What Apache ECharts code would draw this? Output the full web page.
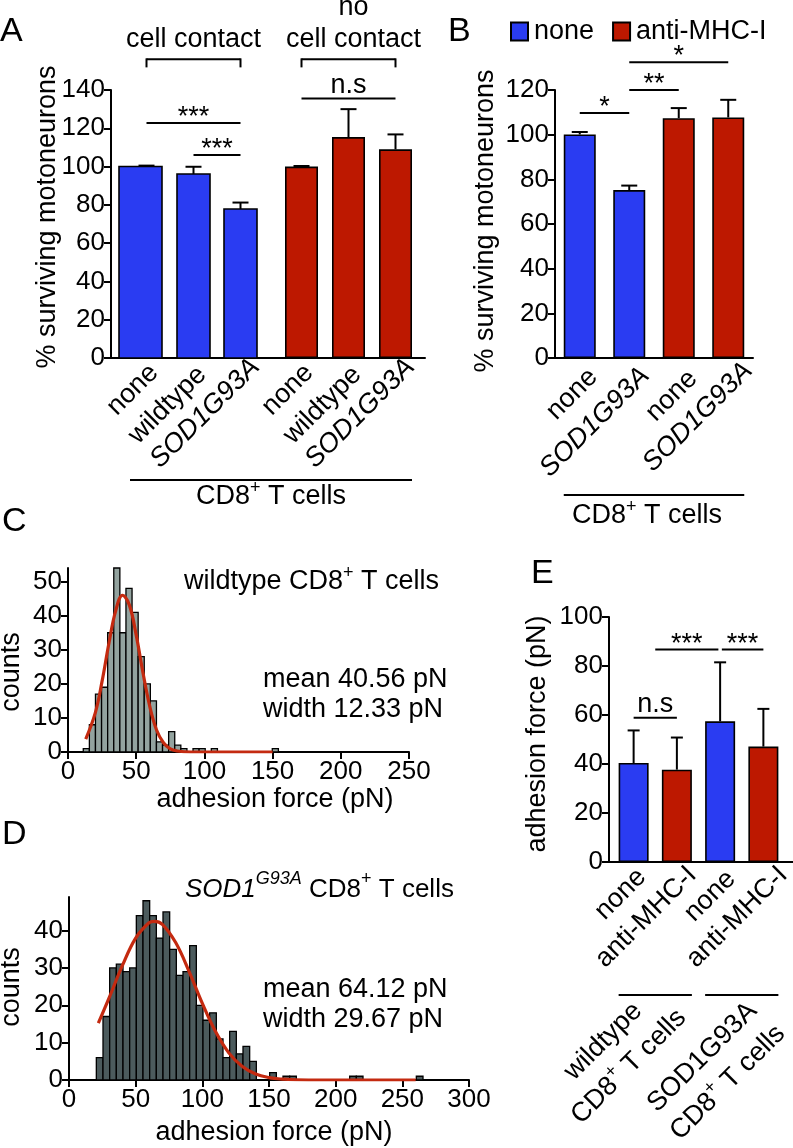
<!DOCTYPE html>
<html><head><meta charset="utf-8">
<script src="https://cdn.jsdelivr.net/npm/echarts@6/dist/echarts.min.js"></script>
<style>html,body{margin:0;padding:0;background:#fff}#c{width:793px;height:1148px}</style>
</head><body><div id="c"></div>
<script>
// ---------------- data ----------------
const aCategories = ['none', 'wildtype', 'SOD1G93A'];
const aContactValues = [100, 96.1, 77.8];
const aContactErrors = [0.5, 3.8, 3.4];
const aNoContactValues = [100, 115.4, 109.0];
const aNoContactErrors = [0.3, 14.6, 7.8];
const aYTicks = [0, 20, 40, 60, 80, 100, 120, 140];
const aSig = [{from: 0, to: 2, y: 122.7, text: '***'}, {from: 1, to: 2, y: 106, text: '***'}];
const aSigNoContact = [{from: 0, to: 2, y: 135.5, text: 'n.s'}];

const bCategories = ['none', 'SOD1G93A', 'none', 'SOD1G93A'];
const bNoneValues = [100.1, 75.2, '-', '-'];
const bNoneErrors = [1.1, 2.0, 0, 0];
const bAntiValues = ['-', '-', 107.4, 107.7];
const bAntiErrors = [0, 0, 4.5, 7.9];
const bYTicks = [0, 20, 40, 60, 80, 100, 120];
const bSig = [{from: 0, to: 1, y: 109.7, text: '*'}, {from: 1, to: 2, y: 120, text: '**'}, {from: 1, to: 3, y: 132.4, text: '*'}];

const cBinStart = 11.2, cBinWidth = 4.47;
const cCounts = [1, 8, 17, 19, 35, 54, 35, 48, 41, 28, 20, 15, 3, 2, 6, 2, 1, 0, 1, 1, 0, 1, 0, 0, 0, 0, 0, 0, 0, 0, 0, 1];
const cFitX = [13, 20, 25, 30, 35, 40, 45, 50, 55, 60, 65, 70, 75, 80, 90, 100, 150];
const cFitY = [3.8, 11.5, 20.8, 31.9, 41.5, 46, 43.1, 34.3, 23.2, 13.3, 6.4, 2.7, 0.9, 0.3, 0, 0, 0];
const cXTicks = [0, 50, 100, 150, 200, 250];
const cYTicks = [0, 10, 20, 30, 40, 50];

const dBinStart = 20.5, dBinWidth = 5;
const dCounts = [6, 17, 30, 31, 29, 30, 44, 48, 44, 38, 45, 35, 28, 29, 36, 20, 16, 18, 11, 6, 13, 7, 9, 5, 0, 0, 2, 0, 1, 1, 0, 0, 0, 0, 0, 0, 0, 0, 1, 1, 0, 0, 0, 0, 0, 0, 0, 0, 1];
const dFitX = [22, 30, 40, 50, 60, 64, 70, 80, 90, 100, 110, 120, 130, 140, 150, 160, 170, 190, 260];
const dFitY = [15.2, 21.9, 30.6, 38.0, 42.1, 42.5, 41.7, 36.8, 29.1, 20.5, 12.9, 7.2, 3.6, 1.6, 0.65, 0.23, 0.07, 0, 0];
const dXTicks = [0, 50, 100, 150, 200, 250, 300];
const dYTicks = [0, 10, 20, 30, 40];

const eCategories = ['none', 'anti-MHC-I', 'none', 'anti-MHC-I'];
const eNoneValues = [40.4, '-', 57.4, '-'];
const eNoneErrors = [13.3, 0, 24.1, 0];
const eAntiValues = ['-', 37.7, '-', 47.1];
const eAntiErrors = [0, 13.1, 0, 15.4];
const eYTicks = [0, 20, 40, 60, 80, 100];
const eSig = [{from: 0, to: 1, y: 58.9, text: 'n.s'}, {from: 0.5, to: 1.96, y: 86.7, text: '***'}, {from: 2.04, to: 3, y: 86.7, text: '***'}];

// ---------------- style ----------------
const FONT = '"Liberation Sans", Arial, Helvetica, sans-serif';
const BLUE = '#2a3cf2', RED = '#bd1800', FIT = '#c42a10';
const C_FILL = '#93a39f', D_FILL = '#4c5b5d';
const TICK = 26, TXT = 27;
// bar extents (px) left/right of the category centre in panel A (first bar is drawn wider in the figure)
const A_CONTACT_EXT = [[27.5, 15.5], [16.5, 16.5], [16.5, 16.5]];
// rotated category-label anchor offsets (px) from (category centre, axis line)
const A_LABEL_OFF = [[7.5, 10.5], [8.5, 12.5], [15, 5]];
const B_LABEL_OFF = [[13.7, 14.9], [15.9, 13.8], [14.3, 16.6], [19.9, 8.6]];
const E_LABEL_OFF = [[8.3, 10.9], [15.5, 9], [11.3, 12.8], [20, 9]];

const chart = echarts.init(document.getElementById('c'), null, {renderer: 'canvas', width: 793, height: 1148});

const line = {show: true, onZero: false, lineStyle: {color: '#000', width: 2}};
const tick = {show: true, length: 7, lineStyle: {color: '#000', width: 2}};
const lab = (size, margin) => ({color: '#000', fontSize: size, fontFamily: FONT, margin: margin});
const noSplit = {show: false};
const hidden = {show: false};

function valY(grid, max, ticks, show) {
  if (!show) return {gridIndex: grid, type: 'value', min: 0, max: max, show: false, splitLine: noSplit};
  return {gridIndex: grid, type: 'value', min: 0, max: max,
    axisLine: line, axisTick: Object.assign({customValues: ticks}, tick),
    axisLabel: Object.assign({customValues: ticks}, lab(TICK, 6)), splitLine: noSplit};
}
function frameX(grid) {
  return {gridIndex: grid, type: 'value', min: 0, max: 1, axisLine: line, axisTick: hidden, axisLabel: hidden, splitLine: noSplit};
}
function catX(grid, cats, showLine) {
  return {gridIndex: grid, type: 'category', data: cats, axisLine: showLine ? line : hidden, axisTick: hidden,
    axisLabel: hidden, splitLine: noSplit};
}
function errData(values, errors) {
  const out = [];
  values.forEach((v, i) => { if (v !== '-') out.push([i, v, errors[i]]); });
  return out;
}
function errSeries(grid, values, errors, cap) {
  return {type: 'custom', xAxisIndex: grid, yAxisIndex: grid, z: 1, data: errData(values, errors),
    encode: {x: 0, y: 1}, silent: true,
    renderItem: (params, api) => {
      const x = api.value(0), v = api.value(1), e = api.value(2);
      const p0 = api.coord([x, v]), p1 = api.coord([x, v + e]);
      return {type: 'group', children: [
        {type: 'line', shape: {x1: p0[0], y1: p0[1], x2: p1[0], y2: p1[1]}, style: {stroke: '#000', lineWidth: 2}},
        {type: 'line', shape: {x1: p1[0] - cap / 2, y1: p1[1], x2: p1[0] + cap / 2, y2: p1[1]}, style: {stroke: '#000', lineWidth: 2}}
      ]};
    }};
}
function customBars(name, grid, values, color, ext) {
  return {name: name, type: 'custom', xAxisIndex: grid, yAxisIndex: grid, z: 2, silent: true,
    data: values.map((v, i) => [i, v]), encode: {x: 0, y: 1},
    renderItem: (params, api) => {
      const i = api.value(0), v = api.value(1);
      const a = api.coord([i, 0]), b = api.coord([i, v]);
      const e = ext[params.dataIndex];
      return {type: 'rect', shape: {x: a[0] - e[0], y: b[1], width: e[0] + e[1], height: a[1] - b[1]},
        style: {fill: color, stroke: '#000', lineWidth: 1.6}};
    }};
}
function histData(start, width, counts) {
  const out = [];
  counts.forEach((c, k) => { if (c > 0) out.push([start + k * width, start + (k + 1) * width, c]); });
  return out;
}
function histSeries(grid, data, fill) {
  return {type: 'custom', xAxisIndex: grid, yAxisIndex: grid, data: data, encode: {x: [0, 1], y: 2}, silent: true,
    renderItem: (params, api) => {
      const a = api.coord([api.value(0), 0]), b = api.coord([api.value(1), api.value(2)]);
      return {type: 'rect', shape: {x: a[0], y: b[1], width: b[0] - a[0], height: a[1] - b[1]},
        style: {fill: fill, stroke: '#000', lineWidth: 1.3}};
    }};
}
function pairs(xs, ys) { return xs.map((x, i) => [x, ys[i]]); }
const barStyle = c => ({color: c, borderColor: '#000', borderWidth: 1.6});

const option = {
  animation: false,
  backgroundColor: '#fff',
  grid: [
    {left: 111, top: 90, width: 314, height: 268},   // 0 A frame
    {left: 123, top: 90, width: 141, height: 268},   // 1 A contact
    {left: 278, top: 90, width: 141, height: 268},   // 2 A no contact
    {left: 555, top: 90, width: 198, height: 268},   // 3 B
    {left: 68, top: 568, width: 341, height: 184},   // 4 C
    {left: 69, top: 897, width: 400, height: 183},   // 5 D
    {left: 609, top: 617, width: 184, height: 245},  // 6 E frame
    {left: 612, top: 617, width: 173, height: 245}   // 7 E bars
  ],
  xAxis: [
    frameX(0),
    catX(1, aCategories, false),
    catX(2, aCategories, false),
    catX(3, bCategories, true),
    {gridIndex: 4, type: 'value', min: 0, max: 250, interval: 50, axisLine: line, axisTick: tick, axisLabel: lab(TICK, 7), splitLine: noSplit},
    {gridIndex: 5, type: 'value', min: 0, max: 300, interval: 50, axisLine: line, axisTick: tick, axisLabel: lab(TICK, 7), splitLine: noSplit},
    frameX(6),
    catX(7, eCategories, false)
  ],
  yAxis: [
    valY(0, 140, aYTicks, true),
    valY(1, 140, aYTicks, false),
    valY(2, 140, aYTicks, false),
    valY(3, 120, bYTicks, true),
    valY(4, 54, cYTicks, true),
    valY(5, 49, dYTicks, true),
    valY(6, 100, eYTicks, true),
    valY(7, 100, eYTicks, false)
  ],
  legend: {
    data: ['none', 'anti-MHC-I'], left: 505, top: 13, itemWidth: 17, itemHeight: 18, itemGap: 18,
    icon: 'rect', textStyle: {fontSize: TXT, fontFamily: FONT, color: '#000', padding: [0, 0, 0, 1]}
  },
  series: [
    customBars('A contact', 1, aContactValues, BLUE, A_CONTACT_EXT),
    errSeries(1, aContactValues, aContactErrors, 16),
    {name: 'A no contact', type: 'bar', xAxisIndex: 2, yAxisIndex: 2, barWidth: 33, z: 2, data: aNoContactValues, itemStyle: barStyle(RED)},
    errSeries(2, aNoContactValues, aNoContactErrors, 16),
    {name: 'none', type: 'bar', xAxisIndex: 3, yAxisIndex: 3, barWidth: 32, barGap: '-100%', z: 2, data: bNoneValues, itemStyle: barStyle(BLUE)},
    {name: 'anti-MHC-I', type: 'bar', xAxisIndex: 3, yAxisIndex: 3, barWidth: 32, barGap: '-100%', z: 2, data: bAntiValues, itemStyle: barStyle(RED)},
    errSeries(3, bNoneValues, bNoneErrors, 16),
    errSeries(3, bAntiValues, bAntiErrors, 16),
    histSeries(4, histData(cBinStart, cBinWidth, cCounts), C_FILL),
    {type: 'line', xAxisIndex: 4, yAxisIndex: 4, data: pairs(cFitX, cFitY), smooth: 0.4, symbol: 'none', z: 5, lineStyle: {color: FIT, width: 3.2}},
    histSeries(5, histData(dBinStart, dBinWidth, dCounts), D_FILL),
    {type: 'line', xAxisIndex: 5, yAxisIndex: 5, data: pairs(dFitX, dFitY), smooth: 0.4, symbol: 'none', z: 5, lineStyle: {color: FIT, width: 3.2}},
    {name: 'E none', type: 'bar', xAxisIndex: 7, yAxisIndex: 7, barWidth: 30, barGap: '-100%', z: 2, data: eNoneValues, itemStyle: barStyle(BLUE)},
    {name: 'E anti', type: 'bar', xAxisIndex: 7, yAxisIndex: 7, barWidth: 30, barGap: '-100%', z: 2, data: eAntiValues, itemStyle: barStyle(RED)},
    errSeries(7, eNoneValues, eNoneErrors, 12),
    errSeries(7, eAntiValues, eAntiErrors, 12)
  ]
};
chart.setOption(option);

// ---------------- annotations (positions through the chart's own scales) ----------------
const G = [];
function px(ax, x, y) {
  const f = Math.floor(x), r = x - f;
  const p0 = chart.convertToPixel({xAxisIndex: ax, yAxisIndex: ax}, [f, y]);
  if (r === 0) return p0;
  const p1 = chart.convertToPixel({xAxisIndex: ax, yAxisIndex: ax}, [f + 1, y]);
  return [p0[0] + r * (p1[0] - p0[0]), p0[1]];
}
function seg(x1, y1, x2, y2) {
  G.push({type: 'line', shape: {x1: x1, y1: y1, x2: x2, y2: y2}, style: {stroke: '#000', lineWidth: 2}});
}
const RICH = {
  n: {fontSize: TXT, fontFamily: FONT, fill: '#000', lineHeight: 36},
  s: {fontSize: 18, fontFamily: FONT, fill: '#000', lineHeight: 16, verticalAlign: 'top'},
  i: {fontSize: 26, fontFamily: FONT, fontStyle: 'italic', fill: '#000', lineHeight: 40},
  is: {fontSize: 18, fontFamily: FONT, fontStyle: 'italic', fill: '#000', lineHeight: 20, verticalAlign: 'top'},
  d: {fontSize: 26, fontFamily: FONT, fill: '#000', lineHeight: 40},
  ds: {fontSize: 18, fontFamily: FONT, fill: '#000', lineHeight: 20, verticalAlign: 'top'}
};
function txt(x, y, text, opts) {
  const o = opts || {};
  G.push({type: 'text', x: x, y: y, rotation: o.rot || 0, style: {
    text: text, fill: '#000', fontSize: o.size || TXT, fontFamily: FONT, fontStyle: o.italic ? 'italic' : 'normal',
    align: o.align || 'center', verticalAlign: o.va || 'middle', rich: RICH}});
}
function catLabels(ax, cats, offs) {
  cats.forEach((c, i) => {
    const p = px(ax, i, 0), o = offs[i];
    txt(p[0] + o[0], p[1] + o[1], c, {rot: Math.PI / 4, align: 'right', italic: c.indexOf('SOD1') === 0});
  });
}
catLabels(1, aCategories, A_LABEL_OFF);
catLabels(2, aCategories, A_LABEL_OFF);
catLabels(3, bCategories, B_LABEL_OFF);
catLabels(7, eCategories, E_LABEL_OFF);

function sig(ax, list) {
  list.forEach(s => {
    const a = px(ax, s.from, s.y), b = px(ax, s.to, s.y);
    seg(a[0], a[1], b[0], b[1]);
    txt((a[0] + b[0]) / 2, a[1] + (s.text === 'n.s' ? 0 : 8), s.text, {va: 'bottom'});
  });
}
sig(1, aSig); sig(2, aSigNoContact); sig(3, bSig); sig(7, eSig);

// brackets over panel A groups
function bracket(ax, from, to, y, drop) {
  const a = px(ax, from, y), b = px(ax, to, y);
  seg(a[0], a[1], b[0], b[1]);
  seg(a[0], a[1] - 1, a[0], a[1] + drop);
  seg(b[0], b[1] - 1, b[0], b[1] + drop);
  return (a[0] + b[0]) / 2;
}
const c1 = bracket(1, 0, 2, 156, 8);
const c2 = bracket(2, 0, 2, 156, 8);
txt(c1, 40, 'cell contact');
txt(c2 + 5, 8, 'no');
txt(c2 + 5, 40, 'cell contact');

// underlines below category axes
function under(ax, from, to, y, half) {
  const a = px(ax, from, 0), b = px(ax, to, 0);
  seg(a[0] - half, y, b[0] + half, y);
  return (a[0] + b[0]) / 2;
}
const ua1 = px(1, 0, 0)[0] - 16.5, ua2 = px(2, 2, 0)[0] + 16.5;
seg(ua1, 480, ua2, 480);
txt((ua1 + ua2) / 2, 497, '{n|CD8}{s|+}{n| T cells}');
const ub = under(3, 0, 3, 495, 16);
txt(ub - 7, 516, '{n|CD8}{s|+}{n| T cells}');
under(7, 0, 1, 995, 15);
under(7, 2, 3, 995, 15);
txt(616, 1054, '{n|wildtype}\n{n|CD8}{s|+}{n| T cells}', {rot: Math.PI / 4});
txt(715, 1070, '{n|SOD1G93A}\n{n|CD8}{s|+}{n| T cells}', {rot: Math.PI / 4});

// axis names
txt(48, 217, '% surviving motoneurons', {rot: Math.PI / 2});
txt(486, 221, '% surviving motoneurons', {rot: Math.PI / 2});
txt(538, 734, 'adhesion force (pN)', {rot: Math.PI / 2});
txt(12, 672, 'counts', {rot: Math.PI / 2});
txt(12, 987, 'counts', {rot: Math.PI / 2});
txt(275, 800, 'adhesion force (pN)');
txt(274, 1133, 'adhesion force (pN)');

// panel texts
txt(184, 582, '{n|wildtype CD8}{s|+}{n| T cells}', {align: 'left'});
txt(263, 680, 'mean 40.56 pN', {align: 'left'});
txt(263, 710, 'width 12.33 pN', {align: 'left'});
txt(185, 890, '{i|SOD1}{is|G93A}{d| CD8}{ds|+}{d| T cells}', {align: 'left'});
txt(263, 990, 'mean 64.12 pN', {align: 'left'});
txt(263, 1020, 'width 29.67 pN', {align: 'left'});

// panel letters
txt(0, 32, 'A', {align: 'left', size: 34});
txt(448, 32, 'B', {align: 'left', size: 34});
txt(2, 522, 'C', {align: 'left', size: 34});
txt(2, 835, 'D', {align: 'left', size: 34});
txt(531, 574, 'E', {align: 'left', size: 34});

chart.setOption({graphic: {elements: G}});
</script></body></html>
